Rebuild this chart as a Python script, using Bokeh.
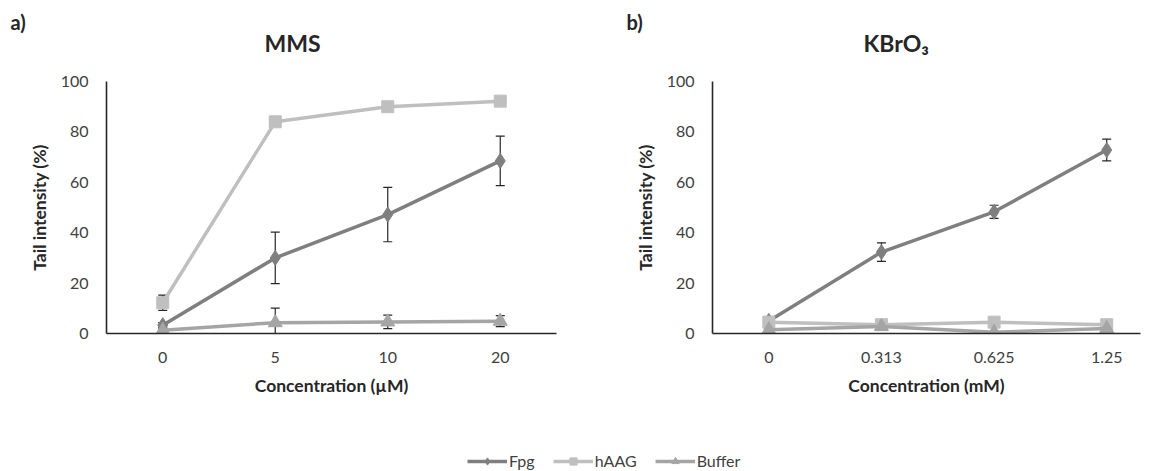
from bokeh.plotting import figure
from bokeh.models import (ColumnDataSource, Range1d, FixedTicker, Whisker, TeeHead,
                          Title, Legend, LegendItem)
from bokeh.layouts import column, row
from bokeh.embed import file_html
from bokeh.resources import INLINE

# ---------------- data ----------------
mms_categories = ["0", "5", "10", "20"]
kbro3_categories = ["0", "0.313", "0.625", "1.25"]

mms_fpg = [3.3, 30.0, 47.2, 68.5]
mms_fpg_err = [1.0, 10.2, 10.8, 9.8]
mms_haag = [12.2, 84.0, 90.0, 92.2]
mms_haag_err = [3.0, 0.6, 0.5, 0.5]
mms_buffer = [1.3, 4.3, 4.6, 4.9]
mms_buffer_err = [0.5, 5.8, 2.7, 2.2]

kbro3_fpg = [5.0, 32.3, 48.3, 72.8]
kbro3_fpg_err = [0.5, 3.7, 2.6, 4.3]
kbro3_haag = [4.5, 3.5, 4.5, 3.5]
kbro3_haag_err = [0.5, 0.5, 0.5, 0.5]
kbro3_buffer = [1.5, 2.8, 0.5, 2.0]
kbro3_buffer_err = [0.4, 0.4, 0.4, 0.4]

y_ticks = [0, 20, 40, 60, 80, 100]

series_names = ["Fpg", "hAAG", "Buffer"]
series_colors = ["#7f7f7f", "#bfbfbf", "#a5a5a5"]
series_markers = ["diamond", "square", "triangle"]
series_sizes = [15, 12, 14]

FONT = "Lato"
TICK_COLOR = "#404040"
TEXT_COLOR = "#262626"
PX_PER_CAT = 112.5


def make_panel(categories, series, title, xlabel, title_offset, letter, letter_offset,
               width, border_left, x_end):
    frame_w = int(round((x_end + 0.5) * PX_PER_CAT))
    p = figure(width=width, height=440, output_backend="svg", toolbar_location=None,
               x_range=Range1d(-0.5, x_end), y_range=Range1d(0, 100),
               min_border_left=border_left, min_border_right=max(width - border_left - frame_w, 0),
               min_border_top=81, min_border_bottom=107)
    p.outline_line_color = None
    p.grid.visible = False

    idx = list(range(len(categories)))
    for (vals, errs), color, marker, size in zip(series, series_colors, series_markers, series_sizes):
        src = ColumnDataSource(dict(x=idx, y=vals,
                                    upper=[v + e for v, e in zip(vals, errs)],
                                    lower=[v - e for v, e in zip(vals, errs)]))
        w = Whisker(base="x", upper="upper", lower="lower", source=src,
                    line_color=TEXT_COLOR, line_width=1.2,
                    upper_head=TeeHead(size=9, line_color=TEXT_COLOR, line_width=1.2),
                    lower_head=TeeHead(size=9, line_color=TEXT_COLOR, line_width=1.2),
                    level="underlay")
        p.add_layout(w)
        p.line("x", "y", source=src, line_color=color, line_width=3.5)
        p.scatter("x", "y", source=src, marker=marker, size=size,
                  fill_color=color, line_color=color)

    p.xaxis.ticker = FixedTicker(ticks=idx)
    p.xaxis.major_label_overrides = {i: c for i, c in zip(idx, categories)}
    p.yaxis.ticker = FixedTicker(ticks=y_ticks)
    for ax in (p.xaxis, p.yaxis):
        ax.major_tick_in = 0
        ax.major_tick_out = 0
        ax.minor_tick_line_color = None
        ax.axis_line_color = TEXT_COLOR
        ax.axis_line_width = 1.6
        ax.major_label_text_font = FONT
        ax.major_label_text_font_size = "16px"
        ax.major_label_text_color = TICK_COLOR
        ax.axis_label_text_font = FONT
        ax.axis_label_text_font_style = "bold"
        ax.axis_label_text_font_size = "17.5px"
        ax.axis_label_text_color = TEXT_COLOR
    p.xaxis.major_label_standoff = 18
    p.yaxis.major_label_standoff = 18
    p.xaxis.axis_label_standoff = 9
    p.yaxis.axis_label_standoff = 8
    p.yaxis.axis_label = "Tail intensity (%)"
    p.xaxis.axis_label = xlabel

    # panel letter (outer title)
    p.title.text = letter
    p.title.align = "left"
    p.title.offset = letter_offset
    p.title.standoff = -63
    p.title.text_font = FONT
    p.title.text_font_style = "bold"
    p.title.text_font_size = "20px"
    p.title.text_color = TEXT_COLOR
    # chart title (closer to the plot)
    p.add_layout(Title(text=title, align="left", offset=title_offset, standoff=49,
                       text_font=FONT, text_font_style="bold", text_font_size="23px",
                       text_color=TEXT_COLOR), "above")
    return p


p1 = make_panel(mms_categories,
                [(mms_fpg, mms_fpg_err), (mms_haag, mms_haag_err), (mms_buffer, mms_buffer_err)],
                "MMS", "Concentration (µM)", 158, "a)", -96, 580, 106, 3.5)
p2 = make_panel(kbro3_categories,
                [(kbro3_fpg, kbro3_fpg_err), (kbro3_haag, kbro3_haag_err), (kbro3_buffer, kbro3_buffer_err)],
                "KBrO₃", "Concentration (mM)", 151, "b)", -86, 568, 132, 3.3)

# legend strip
nan = float("nan")
pl = figure(width=1148, height=30, output_backend="svg", toolbar_location=None,
            x_range=Range1d(0, 1), y_range=Range1d(0, 1), min_border=0)
pl.axis.visible = False
pl.grid.visible = False
pl.outline_line_color = None
items = []
for name, color, marker, size in zip(series_names, series_colors, series_markers, series_sizes):
    lr = pl.line(x=[nan], y=[nan], line_color=color, line_width=3.5)
    sr = pl.scatter(x=[nan], y=[nan], marker=marker, size=size - 4, fill_color=color, line_color=color)
    items.append(LegendItem(label=name, renderers=[lr, sr]))
legend = Legend(items=items, orientation="horizontal", location=(467, 0),
                padding=0, margin=0, spacing=18, glyph_width=40, glyph_height=18,
                label_standoff=2, label_text_font=FONT, label_text_font_size="16px",
                label_text_color=TICK_COLOR, border_line_alpha=0, background_fill_alpha=0)
pl.add_layout(legend, "center")

layout = column(row(p1, p2), pl)
open("out.html", "w").write(file_html(layout, INLINE))
